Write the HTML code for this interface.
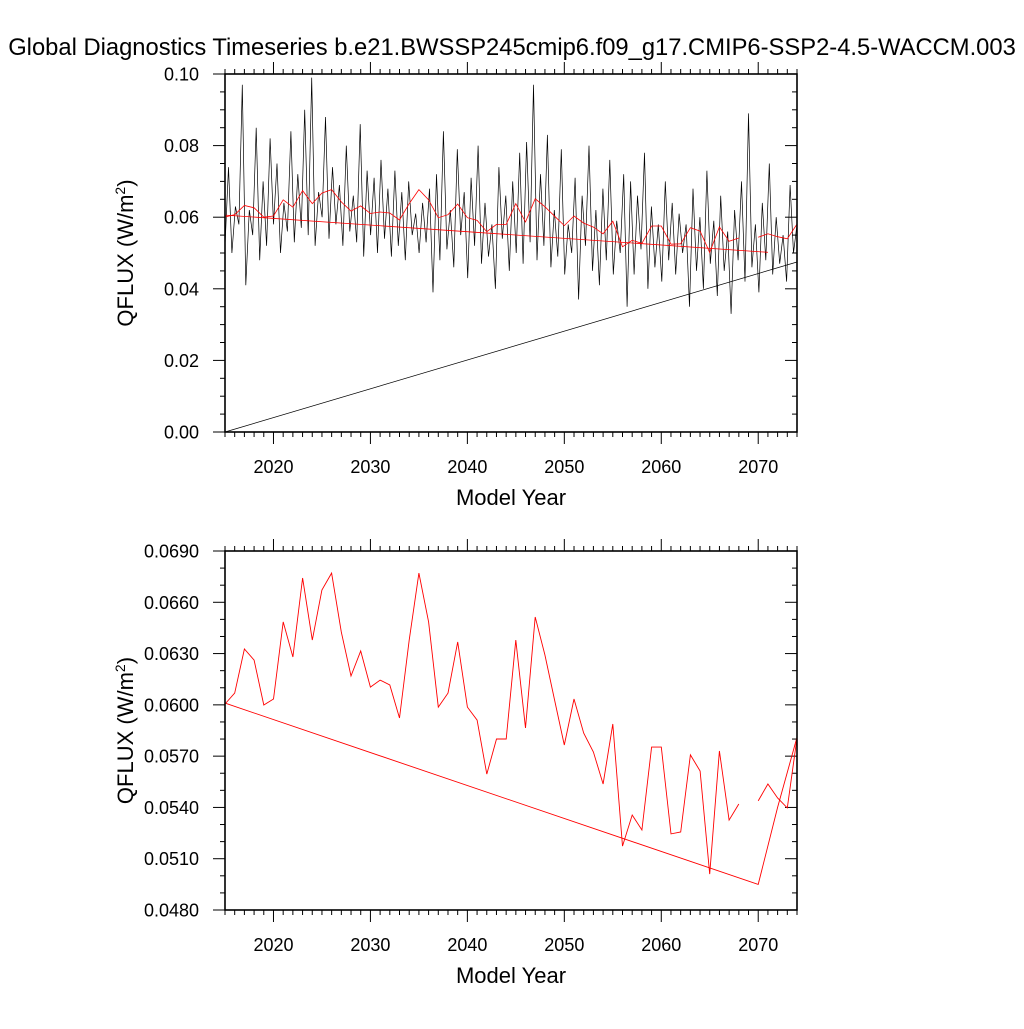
<!DOCTYPE html>
<html><head><meta charset="utf-8"><style>
body{margin:0;background:#fff;}
svg text{font-family:"Liberation Sans",sans-serif;fill:#000;}
</style></head><body>
<svg id="c" width="1024" height="1024" viewBox="0 0 1024 1024" xmlns="http://www.w3.org/2000/svg">
<text x="512" y="55" font-size="23.75" text-anchor="middle">Global Diagnostics Timeseries b.e21.BWSSP245cmip6.f09_g17.CMIP6-SSP2-4.5-WACCM.003</text>
</svg>
<script>
const annualVals=[0.06005,0.06069,0.06327,0.06262,0.05999,0.06034,0.06485,0.0628,0.06742,0.06379,0.06672,0.06771,0.06426,0.06169,0.06315,0.06104,0.06145,0.06116,0.05923,0.06379,0.06771,0.06485,0.05987,0.06069,0.06368,0.05987,0.05911,0.05595,0.058,0.058,0.06379,0.05865,0.06514,0.06292,0.06028,0.05765,0.06034,0.05835,0.05724,0.05537,0.05888,0.05174,0.05356,0.05268,0.05753,0.05753,0.05245,0.05256,0.05707,0.05613,0.0501,0.0573,0.05326,0.0542,null,0.05438,0.05537,0.05455,0.05397,0.05806];
const trendYears=[2015,2070,2072,2074];
const trendVals=[0.0601,0.0495,0.0540,0.0581];
const topTrendYears=[2015,2071];
const topTrendVals=[0.0606,0.0502];
const blackLineYears=[2015,2074];
const blackLineVals=[0,0.0475];
const monthlyVals=[52,74,50,63,58,97,41,62,55,85,48,70,52,82,58,75,50,64,56,84,53,72,57,90,55,99,52,67,60,88,54,74,58,69,52,80,56,66,53,86,49,73,55,71,50,76,54,68,49,73,52,67,48,70,55,61,50,64,53,68,39,72,48,84,51,62,46,79,55,67,43,71,52,80,47,64,49,58,40,74,54,66,45,70,50,78,47,81,53,97,48,72,52,83,46,62,49,79,44,58,50,71,37,66,52,80,45,62,41,68,48,76,44,59,50,72,35,70,44,66,51,78,40,63,46,58,42,70,48,64,44,61,50,58,35,68,45,60,40,73,47,59,38,66,45,56,33,62,48,70,42,89,46,58,39,64,48,75,44,60,47,55,42,69,50,58].map(v=>v/1000);
const xTicks=[2020,2030,2040,2050,2060,2070];
const topYTicks=[0,0.02,0.04,0.06,0.08,0.10];
const botYTicks=[0.048,0.051,0.054,0.057,0.060,0.063,0.066,0.069];

const svg=document.getElementById('c');
const NS='http://www.w3.org/2000/svg';
function el(t,a,p){const e=document.createElementNS(NS,t);for(const k in a)e.setAttribute(k,a[k]);(p||svg).appendChild(e);return e;}
const X0=2015,X1=2074,L=225,R=797;
const sx=y=>L+(y-X0)/(X1-X0)*(R-L);

function panel(name,T,B,ymin,ymax,yt,minorStep,fmt){
  const g=el('g',{});
  
  
  const sy=v=>B-(v-ymin)/(ymax-ymin)*(B-T);
  for(let y=2015;y<=2074;y++){
    const x=sx(y),maj=y%10==0,len=maj?12:5;
    const t1=el('line',{x1:x,x2:x,y1:B,y2:B+len,stroke:'#000','stroke-width':1},g);
    
    
    el('line',{x1:x,x2:x,y1:T,y2:T-len,stroke:'#000','stroke-width':1},g);
  }
  const n=Math.round((ymax-ymin)/minorStep);
  for(let i=0;i<=n;i++){
    const v=ymin+i*minorStep,y=sy(v);
    const maj=yt.some(t=>Math.abs(t-v)<minorStep/10),len=maj?12:5;
    el('line',{x1:L,x2:L-len,y1:y,y2:y,stroke:'#000','stroke-width':1},g);
    el('line',{x1:R,x2:R-len,y1:y,y2:y,stroke:'#000','stroke-width':1},g);
  }
  xTicks.forEach(t=>{
    const tx=el('text',{x:sx(t),y:B+41,'font-size':18,'text-anchor':'middle'},g);
    tx.textContent=t;
    
    
  });
  yt.forEach(t=>{
    const tx=el('text',{x:L-26,y:sy(t)+6.5,'font-size':18,'text-anchor':'end'},g);
    tx.textContent=t.toFixed(fmt);
    
    
  });
  const xl=el('text',{x:511,y:B+73,'font-size':22,'text-anchor':'middle'},g);
  xl.textContent='Model Year';
  
  
  const cy=(T+B)/2;
  const yl=el('text',{x:0,y:0,'font-size':22,'text-anchor':'middle',transform:`translate(133,${cy}) rotate(-90)`},g);
  yl.innerHTML='QFLUX (W/m<tspan baseline-shift="super" font-size="14">2</tspan>)';
  
  
  return {g,sy};
}
function poly(g,xs,ys,sy,color,w,name){
  let segs=[],cur=[];
  xs.forEach((x,i)=>{if(ys[i]==null){if(cur.length)segs.push(cur);cur=[];}else cur.push(sx(x).toFixed(1)+','+sy(ys[i]).toFixed(1));});
  if(cur.length)segs.push(cur);
  segs.forEach(s=>{
    const p=el('polyline',{points:s.join(' '),fill:'none',stroke:color,'stroke-width':w},g);
    
    
  });
}
const years=annualVals.map((v,i)=>2015+i);
const P1=panel('top-panel',74,432,0,0.10,topYTicks,0.005,2);
const mYears=monthlyVals.map((v,i)=>2015+i*(X1-X0)/(monthlyVals.length-1));
poly(P1.g,mYears,monthlyVals,P1.sy,'#000',0.7,'monthly-series');
poly(P1.g,blackLineYears,blackLineVals,P1.sy,'#000',0.7,'black-trend-line');
poly(P1.g,years,annualVals,P1.sy,'#f00',0.8,'annual-mean-series');
poly(P1.g,topTrendYears,topTrendVals,P1.sy,'#f00',0.8,'red-trend-line');
const f1=el('rect',{x:L,y:74,width:R-L,height:358,fill:'none',stroke:'#000','stroke-width':1.6},P1.g);


const P2=panel('bottom-panel',551,910,0.048,0.069,botYTicks,0.001,4);
poly(P2.g,years,annualVals,P2.sy,'#f00',0.9,'annual-mean-series');
poly(P2.g,trendYears,trendVals,P2.sy,'#f00',0.9,'trend-line');
const f2=el('rect',{x:L,y:551,width:R-L,height:359,fill:'none',stroke:'#000','stroke-width':1.6},P2.g);


</script>
</body></html>
